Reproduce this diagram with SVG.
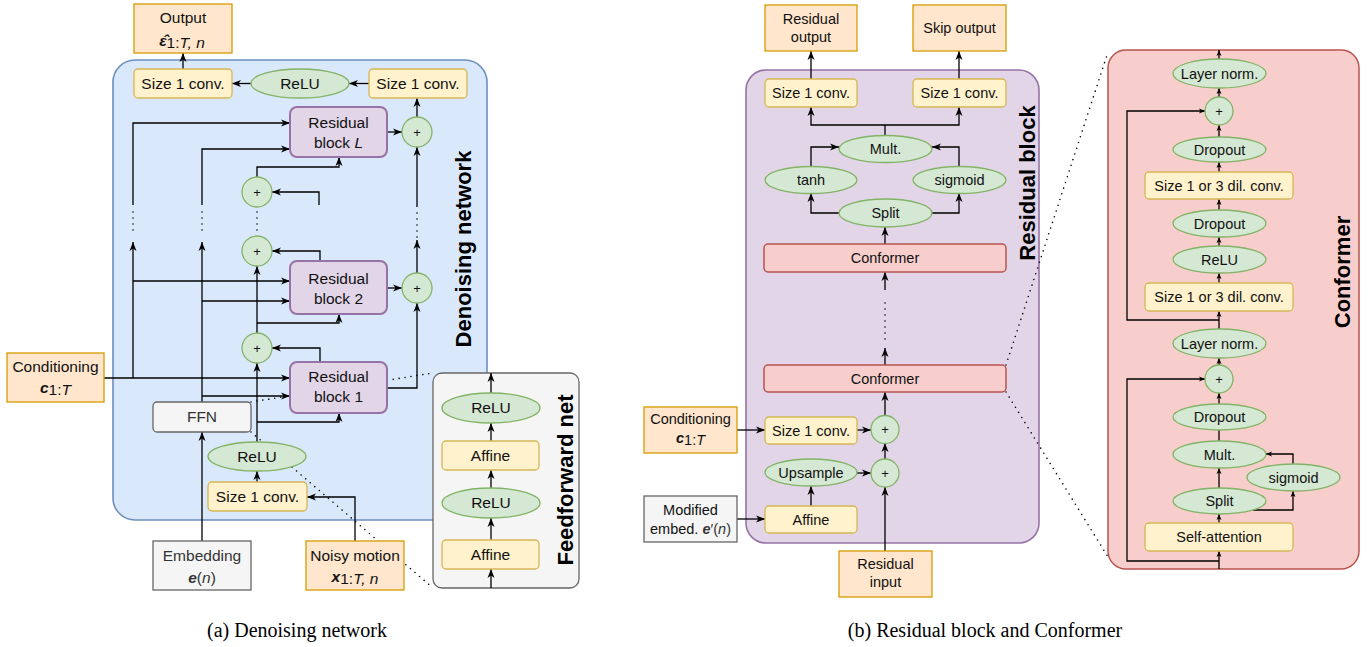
<svg xmlns="http://www.w3.org/2000/svg" width="1372" height="647" viewBox="0 0 1372 647">
<defs>
<marker id="ah" markerWidth="10" markerHeight="8" refX="9" refY="4" orient="auto" markerUnits="userSpaceOnUse"><path d="M0,0.5 L9,4 L0,7.5 L2.5,4 z" fill="#000"/></marker>
<marker id="as" markerWidth="7" markerHeight="6" refX="6" refY="3" orient="auto" markerUnits="userSpaceOnUse"><path d="M0,0.5 L6,3 L0,5.5 L1.5,3 z" fill="#000"/></marker>
<style>
.out{fill:#ffe6cc;stroke:#d79b00;stroke-width:1.3}
.cv{fill:#fff2cc;stroke:#d6b656;stroke-width:1.3}
.el{fill:#d5e8d4;stroke:#82b366;stroke-width:1.3}
.rb{fill:#e1d5e7;stroke:#9673a6;stroke-width:2}
.gr{fill:#f5f5f5;stroke:#666666;stroke-width:1.3}
.cf{fill:#f8cecc;stroke:#b85450;stroke-width:1.5}
.t{font-family:"Liberation Sans",Arial,Helvetica,sans-serif;font-size:15.5px;text-anchor:middle;fill:#111}
.s{font-size:14.5px}
.g3{fill:#333}
.pl{font-family:"Liberation Sans",Arial,sans-serif;font-size:13px;text-anchor:middle;fill:#111}
.ti{font-family:"Liberation Sans",Arial,sans-serif;font-weight:bold;font-size:22px;text-anchor:middle;fill:#000}
.cap{font-family:"Liberation Serif","Times New Roman",serif;font-size:20px;text-anchor:middle;fill:#000}
.ln{fill:none;stroke:#000;stroke-width:1.3}
.a{marker-end:url(#ah)}
.b{marker-end:url(#as)}
.dt{fill:none;stroke:#000;stroke-width:1.6;stroke-dasharray:0 6;stroke-linecap:round}
.bi{font-weight:bold;font-style:italic}
.it{font-style:italic}
</style>
</defs>

<g id="denoising-network-container"><rect x="113" y="60" width="374" height="460" rx="22" fill="#dae8fc" stroke="#6c8ebf" stroke-width="1.6"/>
<text class="ti" transform="translate(471,249) rotate(-90)">Denoising network</text></g>
<g id="feedforward-net-container"><rect x="433" y="373" width="146" height="215" rx="9" class="gr" stroke-width="1.8"/>
<text class="ti" transform="translate(573,480) rotate(-90)">Feedforward net</text></g>
<g id="residual-block-container"><rect x="746" y="70" width="293" height="473" rx="20" fill="#e1d5e7" stroke="#9673a6" stroke-width="1.6"/>
<text class="ti" transform="translate(1035,183) rotate(-90)">Residual block</text></g>
<g id="conformer-container"><rect x="1108" y="50" width="251" height="519" rx="18" class="cf" stroke-width="1.6"/>
<text class="ti" transform="translate(1350,272) rotate(-90)">Conformer</text></g>

<g id="connectors">
<path class="ln a" d="M183,69 V53"/>
<path class="ln a" d="M369,83.5 H349"/>
<path class="ln a" d="M251,83.5 H232"/>
<path class="ln a" d="M417,117 V98"/>
<path class="ln a" d="M387,132 H402"/>
<path class="ln a" d="M417,207 V147"/>
<path class="dt" d="M417,213 V240"/>
<path class="ln a" d="M417,273 V240"/>
<path class="ln a" d="M387,288 H402"/>
<path class="ln a" d="M387,388 H417 V303"/>
<path class="ln a" d="M104,378 H290"/>
<path class="ln a" d="M133,378 V242"/>
<path class="ln a" d="M133,281 H290"/>
<path class="dt" d="M133,212 V234"/>
<path class="ln a" d="M133,205 V123 H290"/>
<path class="ln a" d="M202,402 V242"/>
<path class="ln a" d="M202,301 H290"/>
<path class="ln a" d="M202,396 H290"/>
<path class="dt" d="M202,212 V234"/>
<path class="ln a" d="M202,205 V149 H290"/>
<path class="ln a" d="M257,177 V167 H339 V157"/>
<path class="ln a" d="M319,205 V192 H272"/>
<path class="dt" d="M257,212 V236"/>
<path class="ln a" d="M320,261 V251 H272"/>
<path class="ln a" d="M257,333 V266"/>
<path class="ln a" d="M257,323 H339 V314"/>
<path class="ln a" d="M320,362 V348 H272"/>
<path class="ln a" d="M257,442 V363"/>
<path class="ln a" d="M257,422 H339 V413"/>
<path class="ln a" d="M257,482 V471"/>
<path class="ln a" d="M355,541 V497 H307"/>
<path class="ln a" d="M202,541 V432"/>
<path class="dt" d="M251,402 L433,373"/>
<path class="dt" d="M251,432 L433,588"/>
<path class="ln a" d="M491,588 V569"/>
<path class="ln a" d="M491,540 V518"/>
<path class="ln a" d="M491,488 V470"/>
<path class="ln a" d="M491,441 V423"/>
<path class="ln a" d="M491,393 V373"/>
<path class="ln a" d="M811,79 V51"/>
<path class="ln a" d="M959,79 V51"/>
<path class="ln" d="M885,135 V125"/>
<path class="ln a" d="M885,125 H811 V107"/>
<path class="ln a" d="M885,125 H959 V107"/>
<path class="ln a" d="M811,166 V147 H839"/>
<path class="ln a" d="M959,166 V147 H932"/>
<path class="ln a" d="M839,213 H811 V193"/>
<path class="ln a" d="M932,213 H959 V193"/>
<path class="ln a" d="M885,244 V227"/>
<path class="ln a" d="M885,290 V272"/>
<path class="dt" d="M885,303 V340"/>
<path class="ln a" d="M885,365 V348"/>
<path class="ln a" d="M885,415 V392"/>
<path class="ln a" d="M885,459 V443"/>
<path class="ln a" d="M857,430 H871"/>
<path class="ln a" d="M857,473 H871"/>
<path class="ln a" d="M811,506 V486"/>
<path class="ln a" d="M737,430 H765"/>
<path class="ln a" d="M737,519 H765"/>
<path class="ln a" d="M885,551 V487"/>
<path class="dt" d="M1006,365 L1108,52"/>
<path class="dt" d="M1006,392 L1108,557"/>
<path class="ln b" d="M1219,59 V50"/>
<path class="ln b" d="M1219,97 V88"/>
<path class="ln b" d="M1219,137 V125"/>
<path class="ln b" d="M1219,172 V162"/>
<path class="ln b" d="M1219,210 V199"/>
<path class="ln b" d="M1219,246 V237"/>
<path class="ln b" d="M1219,283 V273"/>
<path class="ln b" d="M1219,329 V311"/>
<path class="ln b" d="M1219,320 H1127 V111 H1205"/>
<path class="ln b" d="M1219,365 V358"/>
<path class="ln b" d="M1219,404 V393"/>
<path class="ln" d="M1219,441 V430"/>
<path class="ln b" d="M1219,488 V468"/>
<path class="ln b" d="M1253,510 H1293 V491"/>
<path class="ln b" d="M1293,464 V454 H1266"/>
<path class="ln b" d="M1219,523 V514"/>
<path class="ln b" d="M1219,569 V551"/>
<path class="ln b" d="M1219,561 H1127 V379 H1205"/>
</g>

<g id="output"><rect x="134" y="4" width="98" height="49" class="out"/>
<text class="t" x="183" y="23">Output</text>
<text class="t" x="182" y="46"><tspan class="bi">ε̂</tspan><tspan dy="2">1:</tspan><tspan class="it">T, n</tspan></text></g>
<g id="conv-out"><rect x="134" y="69" width="98" height="29" rx="4" class="cv"/><text class="t" x="183" y="89">Size 1 conv.</text></g>
<g id="relu-out"><ellipse cx="300" cy="83.5" rx="49" ry="14.5" class="el"/><text class="t" x="300" y="89">ReLU</text></g>
<g id="conv-skip"><rect x="369" y="69" width="98" height="29" rx="4" class="cv"/><text class="t" x="418" y="89">Size 1 conv.</text></g>
<g id="res-block-L"><rect x="290" y="107" width="97" height="50" rx="7" class="rb"/>
<text class="t" x="338.5" y="128">Residual</text><text class="t" x="338.5" y="148">block <tspan class="it">L</tspan></text></g>
<g id="skip-plus-L"><circle cx="417" cy="132" r="15" class="el"/><text class="pl" x="417" y="137">+</text></g>
<g id="res-block-2"><rect x="290" y="261" width="97" height="53" rx="7" class="rb"/>
<text class="t" x="338.5" y="284">Residual</text><text class="t" x="338.5" y="304">block 2</text></g>
<g id="skip-plus-2"><circle cx="417" cy="288" r="15" class="el"/><text class="pl" x="417" y="293">+</text></g>
<g id="res-block-1"><rect x="290" y="362" width="97" height="51" rx="7" class="rb"/>
<text class="t" x="338.5" y="382">Residual</text><text class="t" x="338.5" y="402">block 1</text></g>
<g id="res-plus-top"><circle cx="257" cy="192" r="15" class="el"/><text class="pl" x="257" y="197">+</text></g>
<g id="res-plus-2"><circle cx="257" cy="251" r="15" class="el"/><text class="pl" x="257" y="256">+</text></g>
<g id="res-plus-1"><circle cx="257" cy="348" r="15" class="el"/><text class="pl" x="257" y="353">+</text></g>
<g id="ffn"><rect x="153" y="402" width="98" height="30" rx="4" class="gr" stroke-width="2"/><text class="t g3" x="202" y="422">FFN</text></g>
<g id="relu-in"><ellipse cx="257" cy="456.5" rx="49" ry="14.5" class="el"/><text class="t" x="257" y="462">ReLU</text></g>
<g id="conv-in"><rect x="208" y="482" width="99" height="29" rx="4" class="cv"/><text class="t" x="257.5" y="502">Size 1 conv.</text></g>
<g id="embedding"><rect x="153" y="541" width="98" height="49" class="gr"/>
<text class="t g3" x="202" y="561">Embedding</text>
<text class="t g3" x="202" y="583"><tspan class="bi">e</tspan>(<tspan class="it">n</tspan>)</text></g>
<g id="noisy-motion"><rect x="306" y="541" width="98" height="49" class="out"/>
<text class="t" x="355" y="561">Noisy motion</text>
<text class="t" x="355" y="582"><tspan class="bi">x</tspan><tspan dy="2">1:</tspan><tspan class="it">T, n</tspan></text></g>
<g id="conditioning-a"><rect x="7" y="353" width="97" height="49" class="out"/>
<text class="t" x="55.5" y="372">Conditioning</text>
<text class="t" x="55.5" y="393"><tspan class="bi">c</tspan><tspan dy="2">1:</tspan><tspan class="it">T</tspan></text></g>
<g id="ff-relu-2"><ellipse cx="491" cy="408" rx="49" ry="15" class="el"/><text class="t" x="491" y="413">ReLU</text></g>
<g id="ff-affine-2"><rect x="442" y="441" width="97" height="29" rx="4" class="cv"/><text class="t" x="490.5" y="461">Affine</text></g>
<g id="ff-relu-1"><ellipse cx="491" cy="503" rx="49" ry="15" class="el"/><text class="t" x="491" y="508">ReLU</text></g>
<g id="ff-affine-1"><rect x="442" y="540" width="97" height="29" rx="4" class="cv"/><text class="t" x="490.5" y="560">Affine</text></g>

<g id="residual-output"><rect x="765" y="5" width="92" height="46" class="out"/>
<text class="t s" x="811" y="24">Residual</text><text class="t s" x="811" y="42">output</text></g>
<g id="skip-output"><rect x="913" y="5" width="93" height="46" class="out"/><text class="t s" x="959.5" y="33">Skip output</text></g>
<g id="rb-conv-res"><rect x="765" y="79" width="92" height="28" rx="4" class="cv"/><text class="t s" x="811" y="98">Size 1 conv.</text></g>
<g id="rb-conv-skip"><rect x="913" y="79" width="93" height="28" rx="4" class="cv"/><text class="t s" x="959.5" y="98">Size 1 conv.</text></g>
<g id="rb-mult"><ellipse cx="885.5" cy="149" rx="46.5" ry="13.5" class="el"/><text class="t s" x="885.5" y="154">Mult.</text></g>
<g id="rb-tanh"><ellipse cx="811" cy="180" rx="46" ry="13.5" class="el"/><text class="t s" x="811" y="185">tanh</text></g>
<g id="rb-sigmoid"><ellipse cx="959.5" cy="180" rx="46.5" ry="13.5" class="el"/><text class="t s" x="959.5" y="185">sigmoid</text></g>
<g id="rb-split"><ellipse cx="885.5" cy="213" rx="46.5" ry="14" class="el"/><text class="t s" x="885.5" y="218">Split</text></g>
<g id="conformer-top"><rect x="764" y="244" width="242" height="28" rx="4" class="cf"/><text class="t s" x="885" y="263">Conformer</text></g>
<g id="conformer-bottom"><rect x="764" y="365" width="242" height="27" rx="4" class="cf"/><text class="t s" x="885" y="383.5">Conformer</text></g>
<g id="rb-plus-top"><circle cx="885" cy="429.5" r="14" class="el"/><text class="pl" x="885" y="434">+</text></g>
<g id="rb-plus-bottom"><circle cx="885" cy="473" r="14" class="el"/><text class="pl" x="885" y="478">+</text></g>
<g id="rb-conv-cond"><rect x="765" y="417" width="92" height="27" rx="4" class="cv"/><text class="t s" x="811" y="435.5">Size 1 conv.</text></g>
<g id="rb-upsample"><ellipse cx="811" cy="472.5" rx="46" ry="13.5" class="el"/><text class="t s" x="811" y="477.5">Upsample</text></g>
<g id="rb-affine"><rect x="765" y="506" width="92" height="27" rx="4" class="cv"/><text class="t s" x="811" y="524.5">Affine</text></g>
<g id="conditioning-b"><rect x="644" y="407" width="93" height="46" class="out"/>
<text class="t s" x="690.5" y="424">Conditioning</text>
<text class="t s" x="690.5" y="443"><tspan class="bi">c</tspan><tspan dy="2">1:</tspan><tspan class="it">T</tspan></text></g>
<g id="modified-embed"><rect x="644" y="496" width="93" height="46" class="gr"/>
<text class="t s" x="690.5" y="515" fill="#555">Modified</text>
<text class="t s" x="690.5" y="534" fill="#555">embed. <tspan class="bi" fill="#333">e</tspan><tspan fill="#333">′(</tspan><tspan class="it" fill="#333">n</tspan><tspan fill="#333">)</tspan></text></g>
<g id="residual-input"><rect x="839" y="551" width="93" height="46" class="out"/>
<text class="t s" x="885.5" y="569">Residual</text><text class="t s" x="885.5" y="587">input</text></g>

<g id="cf-layernorm-2"><ellipse cx="1219.5" cy="73.5" rx="46.5" ry="14.5" class="el"/><text class="t s" x="1219.5" y="78.5">Layer norm.</text></g>
<g id="cf-plus-2"><circle cx="1219" cy="111" r="14" class="el"/><text class="pl" x="1219" y="115.5">+</text></g>
<g id="cf-dropout-3"><ellipse cx="1219.5" cy="149.5" rx="46.5" ry="12.5" class="el"/><text class="t s" x="1219.5" y="154.5">Dropout</text></g>
<g id="cf-dilconv-2"><rect x="1145" y="172" width="148" height="27" rx="4" class="cv"/><text class="t s" x="1219" y="190.5">Size 1 or 3 dil. conv.</text></g>
<g id="cf-dropout-2"><ellipse cx="1219.5" cy="223.5" rx="46.5" ry="13.5" class="el"/><text class="t s" x="1219.5" y="228.5">Dropout</text></g>
<g id="cf-relu"><ellipse cx="1219.5" cy="259.5" rx="46.5" ry="13.5" class="el"/><text class="t s" x="1219.5" y="264.5">ReLU</text></g>
<g id="cf-dilconv-1"><rect x="1145" y="283" width="148" height="28" rx="4" class="cv"/><text class="t s" x="1219" y="302">Size 1 or 3 dil. conv.</text></g>
<g id="cf-layernorm-1"><ellipse cx="1219.5" cy="343.5" rx="46.5" ry="14.5" class="el"/><text class="t s" x="1219.5" y="348.5">Layer norm.</text></g>
<g id="cf-plus-1"><circle cx="1219" cy="379" r="14" class="el"/><text class="pl" x="1219" y="383.5">+</text></g>
<g id="cf-dropout-1"><ellipse cx="1219.5" cy="417" rx="46.5" ry="13" class="el"/><text class="t s" x="1219.5" y="422">Dropout</text></g>
<g id="cf-mult"><ellipse cx="1219.5" cy="454.5" rx="46.5" ry="13.5" class="el"/><text class="t s" x="1219.5" y="459.5">Mult.</text></g>
<g id="cf-sigmoid"><ellipse cx="1293.5" cy="477.5" rx="46.5" ry="13.5" class="el"/><text class="t s" x="1293.5" y="482.5">sigmoid</text></g>
<g id="cf-split"><ellipse cx="1219.5" cy="501" rx="46.5" ry="13" class="el"/><text class="t s" x="1219.5" y="506">Split</text></g>
<g id="cf-self-attention"><rect x="1145" y="523" width="148" height="28" rx="4" class="cv"/><text class="t s" x="1219" y="542">Self-attention</text></g>

<g id="captions">
<text class="cap" x="297" y="637">(a) Denoising network</text>
<text class="cap" x="985" y="637">(b) Residual block and Conformer</text>
</g>
</svg>
